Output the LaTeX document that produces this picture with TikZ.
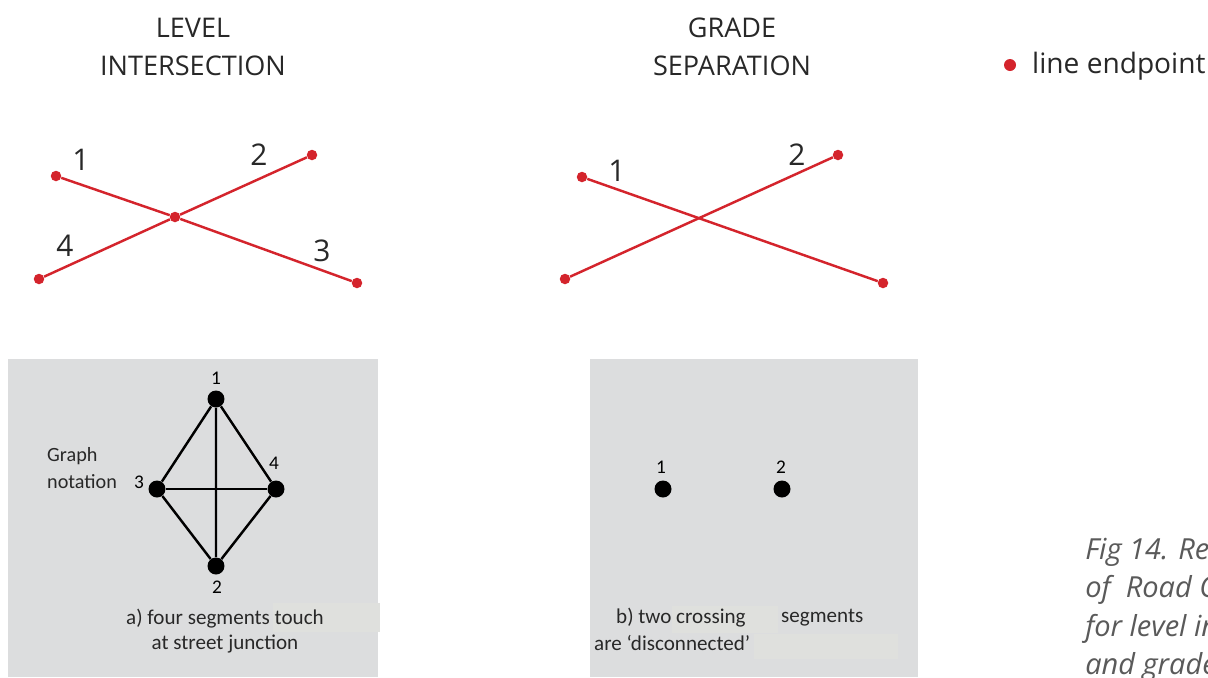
\documentclass[tikz,border=0pt]{standalone}
\usepackage{fontspec}
\setmainfont{Open Sans}
\newfontfamily\boxfont{Carlito}
\definecolor{roadred}{RGB}{212,36,44}
\definecolor{boxgray}{RGB}{220,221,222}
\definecolor{patchgray}{RGB}{223,224,221}
\definecolor{textgray}{RGB}{40,40,40}
\definecolor{capgray}{RGB}{90,90,90}

\begin{document}
\begin{tikzpicture}[x=0.02cm,y=-0.02cm,
  enddot/.style={circle,fill=roadred,inner sep=0pt,minimum size=0.21cm},
  road/.style={roadred,line width=1.4pt},
  vertex/.style={circle,fill=black,inner sep=0pt,minimum size=0.34cm},
  edge/.style={black,line width=1.4pt},
  title/.style={font=\fontsize{15.4}{21.5}\selectfont,text=textgray,align=center},
  numlab/.style={font=\fontsize{17}{20}\selectfont,text=textgray},
  glab/.style={font=\boxfont\fontsize{11}{12}\selectfont,text=black},
  boxtxt/.style={font=\boxfont\fontsize{12}{14}\selectfont,text=textgray}]
\useasboundingbox (0,0) rectangle (1208,677);
\fill[white] (0,0) rectangle (1208,677);

% titles and legend
\node[title] (lvl) at (193,47) {LEVEL\\INTERSECTION};
\node[title] (grd) at (732,47) {GRADE\\SEPARATION};
\node[enddot,minimum size=0.24cm] (leg) at (1010,65) {};
\node[anchor=west,font=\fontsize{16}{18}\selectfont,text=textgray] (legtxt) at (1026,66) {line endpoint};

% level intersection
\node[enddot] (e1) at (56,176) {};
\node[enddot] (e2) at (312,155) {};
\node[enddot] (e3) at (357,283) {};
\node[enddot] (e4) at (39,279) {};
\node[enddot] (ex) at (175,217) {};
\draw[road] (e1) -- (ex) -- (e3);
\draw[road] (e4) -- (ex) -- (e2);
\node[numlab] at (81,160) {1};
\node[numlab] at (259,155) {2};
\node[numlab] at (322,251) {3};
\node[numlab] at (65,246) {4};

% grade separation
\node[enddot] (f1) at (582,177) {};
\node[enddot] (f2) at (838,155) {};
\node[enddot] (f3) at (883,283) {};
\node[enddot] (f4) at (565,279) {};
\draw[road] (f1) -- (f3);
\draw[road] (f4) -- (f2);
\node[numlab] at (617,171) {1};
\node[numlab] at (797,155) {2};

% graph boxes
\fill[boxgray] (8,359) rectangle (378,677);
\fill[boxgray] (590,359) rectangle (918,677);
\fill[patchgray] (273,603) rectangle (380,632);
\fill[patchgray] (672,606) rectangle (778,633);
\fill[patchgray] (754,634) rectangle (898,659);

\node[vertex] (g1) at (216,399) {};
\node[vertex] (g2) at (216,566) {};
\node[vertex] (g3) at (157,489) {};
\node[vertex] (g4) at (276,489) {};
\draw[edge] (g1) -- (g3) -- (g2) -- (g4) -- (g1) -- (g2);
\draw[edge] (g3) -- (g4);
\node[glab] at (216,378) {1};
\node[glab] at (217,587) {2};
\node[glab] at (139,482) {3};
\node[glab] at (274,463) {4};
\node[glab,anchor=west,align=left,font=\boxfont\fontsize{11.5}{15}\selectfont,text=textgray] (gn) at (41,468) {Graph\\notation};
\node[boxtxt,align=center] (ta) at (225,631) {a) four segments touch\\at street junction};

\node[vertex] (h1) at (663,489) {};
\node[vertex] (h2) at (782,489) {};
\node[glab] at (661,467) {1};
\node[glab] at (781,467) {2};
\node[boxtxt,anchor=west] (tb1) at (610,618) {b) two crossing};
\node[boxtxt,anchor=west] (tb2) at (775,618) {segments};
\node[boxtxt,anchor=west] (tb3) at (588,643) {are ‘disconnected’};

% caption (runs off the page)
\node[anchor=north west,align=left,inner sep=0pt,text=capgray,
  font=\itshape\fontsize{16.5}{21.8}\selectfont] (cap) at (1085,538)
  {Fig 14. Re\\of~ Road C\\for level in\\and grade};
\end{tikzpicture}
\end{document}
